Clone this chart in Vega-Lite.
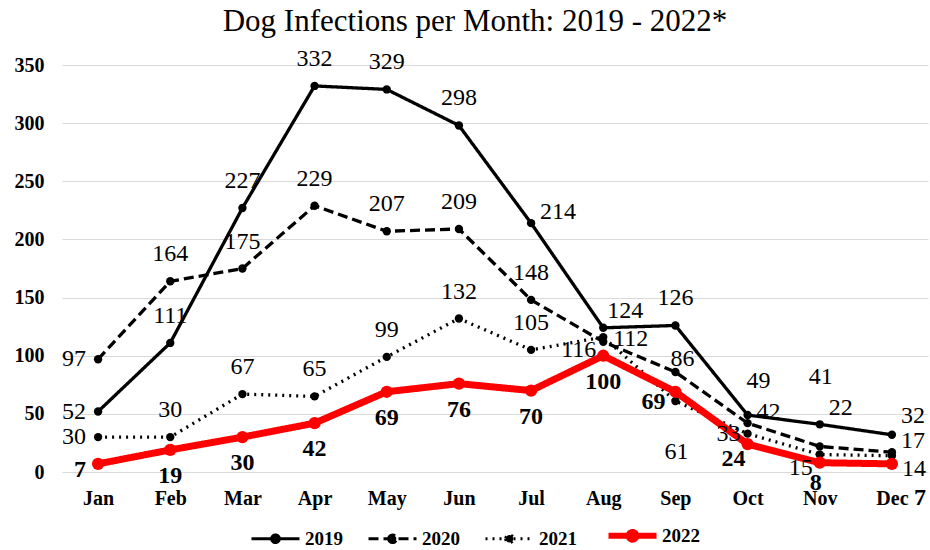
{
  "$schema": "https://vega.github.io/schema/vega-lite/v6.json",
  "autosize": "none",
  "width": 866,
  "height": 407,
  "padding": {"left": 62, "top": 65, "right": 2, "bottom": 78},
  "background": "white",
  "title": {
    "text": "Dog Infections  per Month: 2019 - 2022*",
    "font": "Liberation Serif",
    "fontSize": 31,
    "fontWeight": "normal",
    "color": "black",
    "anchor": "middle",
    "dx": -20,
    "offset": 9
  },
  "config": {
    "view": {"stroke": null},
    "text": {"font": "Liberation Serif", "fontSize": 24}
  },
  "data": {
    "values": [
      {"month": "Jan", "year": "2019", "value": 52},
      {"month": "Feb", "year": "2019", "value": 111},
      {"month": "Mar", "year": "2019", "value": 227},
      {"month": "Apr", "year": "2019", "value": 332},
      {"month": "May", "year": "2019", "value": 329},
      {"month": "Jun", "year": "2019", "value": 298},
      {"month": "Jul", "year": "2019", "value": 214},
      {"month": "Aug", "year": "2019", "value": 124},
      {"month": "Sep", "year": "2019", "value": 126},
      {"month": "Oct", "year": "2019", "value": 49},
      {"month": "Nov", "year": "2019", "value": 41},
      {"month": "Dec", "year": "2019", "value": 32},
      {"month": "Jan", "year": "2020", "value": 97},
      {"month": "Feb", "year": "2020", "value": 164},
      {"month": "Mar", "year": "2020", "value": 175},
      {"month": "Apr", "year": "2020", "value": 229},
      {"month": "May", "year": "2020", "value": 207},
      {"month": "Jun", "year": "2020", "value": 209},
      {"month": "Jul", "year": "2020", "value": 148},
      {"month": "Aug", "year": "2020", "value": 112},
      {"month": "Sep", "year": "2020", "value": 86},
      {"month": "Oct", "year": "2020", "value": 42},
      {"month": "Nov", "year": "2020", "value": 22},
      {"month": "Dec", "year": "2020", "value": 17},
      {"month": "Jan", "year": "2021", "value": 30},
      {"month": "Feb", "year": "2021", "value": 30},
      {"month": "Mar", "year": "2021", "value": 67},
      {"month": "Apr", "year": "2021", "value": 65},
      {"month": "May", "year": "2021", "value": 99},
      {"month": "Jun", "year": "2021", "value": 132},
      {"month": "Jul", "year": "2021", "value": 105},
      {"month": "Aug", "year": "2021", "value": 116},
      {"month": "Sep", "year": "2021", "value": 61},
      {"month": "Oct", "year": "2021", "value": 33},
      {"month": "Nov", "year": "2021", "value": 15},
      {"month": "Dec", "year": "2021", "value": 14},
      {"month": "Jan", "year": "2022", "value": 7},
      {"month": "Feb", "year": "2022", "value": 19},
      {"month": "Mar", "year": "2022", "value": 30},
      {"month": "Apr", "year": "2022", "value": 42},
      {"month": "May", "year": "2022", "value": 69},
      {"month": "Jun", "year": "2022", "value": 76},
      {"month": "Jul", "year": "2022", "value": 70},
      {"month": "Aug", "year": "2022", "value": 100},
      {"month": "Sep", "year": "2022", "value": 69},
      {"month": "Oct", "year": "2022", "value": 24},
      {"month": "Nov", "year": "2022", "value": 8},
      {"month": "Dec", "year": "2022", "value": 7}
    ]
  },
  "transform": [{"calculate": "datum.year + '|' + datum.month", "as": "key"}],
  "encoding": {
    "x": {
      "field": "month",
      "type": "ordinal",
      "sort": ["Jan","Feb","Mar","Apr","May","Jun","Jul","Aug","Sep","Oct","Nov","Dec"],
      "scale": {"type": "point", "padding": 0.5},
      "axis": {
        "title": null,
        "labelAngle": 0,
        "labelFont": "Liberation Serif",
        "labelFontWeight": "bold",
        "labelFontSize": 20,
        "labelColor": "black",
        "labelPadding": 16,
        "ticks": false,
        "domain": false,
        "grid": false
      }
    },
    "y": {
      "field": "value",
      "type": "quantitative",
      "scale": {"domain": [0, 350], "nice": false},
      "axis": {
        "title": null,
        "values": [0, 50, 100, 150, 200, 250, 300, 350],
        "labelFont": "Liberation Serif",
        "labelFontWeight": "bold",
        "labelFontSize": 20,
        "labelColor": "black",
        "labelPadding": 18,
        "ticks": false,
        "domain": false,
        "grid": true,
        "gridColor": "#d9d9d9",
        "gridWidth": 1
      }
    },
    "color": {
      "field": "year",
      "type": "nominal",
      "scale": {"domain": ["2019","2020","2021","2022"], "range": ["black","black","black","#ff0000"]},
      "legend": {
        "title": null,
        "orient": "none",
        "legendX": 204,
        "legendY": 461,
        "direction": "horizontal",
        "symbolType": "M-1,0L1,0M-0.16,0A0.16,0.16,0,1,0,0.16,0A0.16,0.16,0,1,0,-0.16,0Z",
        "symbolSize": 2304,
        "symbolStrokeWidth": 3,
        "labelFont": "Liberation Serif",
        "labelFontWeight": "bold",
        "labelFontSize": 19,
        "labelColor": "black",
        "labelOffset": 20,
        "columnPadding": 19,
        "encode": {
          "symbols": {
            "update": {
              "fill": {"signal": "datum.value === '2022' ? '#ff0000' : 'black'"},
              "strokeWidth": {"signal": "datum.value === '2022' ? 6 : 3"},
              "opacity": {"value": 1}
            }
          }
        }
      }
    }
  },
  "layer": [
    {
      "mark": {"type": "line", "strokeJoin": "miter"},
      "encoding": {
        "strokeDash": {
          "field": "year",
          "type": "nominal",
          "scale": {"domain": ["2019","2020","2021","2022"], "range": [[1,0],[10,5],[2,5],[1,0]]}
        },
        "strokeWidth": {
          "condition": {"test": "datum.year === '2022'", "value": 7},
          "value": 3.3
        }
      }
    },
    {
      "mark": {"type": "point", "filled": true, "opacity": 1},
      "encoding": {
        "size": {
          "condition": {"test": "datum.year === '2022'", "value": 150},
          "value": 70
        }
      }
    },
    {
      "transform": [{"filter": "datum.year != '2022' && indexof(['2019|Jan','2020|Jan','2021|Jan','2019|Jul','2019|Aug','2020|Aug','2020|Sep','2020|Oct','2019|Dec','2020|Dec','2019|Oct','2019|Nov','2020|Nov','2021|Aug','2021|Oct','2021|Nov','2021|Sep','2021|Dec'], datum.key) < 0"}],
      "mark": {"type": "text", "dy": -27},
      "encoding": {"text": {"field": "value", "type": "quantitative"}, "color": {"value": "black"}}
    },
    {
      "transform": [{"filter": "indexof(['2019|Jan','2020|Jan','2021|Jan'], datum.key) >= 0"}],
      "mark": {"type": "text", "align": "right", "dx": -12, "dy": 0},
      "encoding": {"text": {"field": "value", "type": "quantitative"}, "color": {"value": "black"}}
    },
    {
      "transform": [{"filter": "indexof(['2019|Jul','2020|Oct','2020|Dec'], datum.key) >= 0"}],
      "mark": {"type": "text", "align": "left", "dx": 9, "dy": -11},
      "encoding": {"text": {"field": "value", "type": "quantitative"}, "color": {"value": "black"}}
    },
    {
      "transform": [{"filter": "datum.key == '2019|Dec'"}],
      "mark": {"type": "text", "align": "left", "dx": 9, "dy": -19},
      "encoding": {"text": {"field": "value", "type": "quantitative"}, "color": {"value": "black"}}
    },
    {
      "transform": [{"filter": "datum.key == '2019|Aug'"}],
      "mark": {"type": "text", "dx": 22, "dy": -17},
      "encoding": {"text": {"field": "value", "type": "quantitative"}, "color": {"value": "black"}}
    },
    {
      "transform": [{"filter": "datum.key == '2020|Aug'"}],
      "mark": {"type": "text", "align": "left", "dx": 10, "dy": -3},
      "encoding": {"text": {"field": "value", "type": "quantitative"}, "color": {"value": "black"}}
    },
    {
      "transform": [{"filter": "datum.key == '2020|Sep'"}],
      "mark": {"type": "text", "dx": 7, "dy": -13},
      "encoding": {"text": {"field": "value", "type": "quantitative"}, "color": {"value": "black"}}
    },
    {
      "transform": [{"filter": "datum.key == '2019|Oct'"}],
      "mark": {"type": "text", "dx": 11, "dy": -34},
      "encoding": {"text": {"field": "value", "type": "quantitative"}, "color": {"value": "black"}}
    },
    {
      "transform": [{"filter": "datum.key == '2019|Nov'"}],
      "mark": {"type": "text", "dx": 1, "dy": -47},
      "encoding": {"text": {"field": "value", "type": "quantitative"}, "color": {"value": "black"}}
    },
    {
      "transform": [{"filter": "datum.key == '2020|Nov'"}],
      "mark": {"type": "text", "dx": 21, "dy": -38},
      "encoding": {"text": {"field": "value", "type": "quantitative"}, "color": {"value": "black"}}
    },
    {
      "transform": [{"filter": "indexof(['2021|Aug','2021|Nov'], datum.key) >= 0"}],
      "mark": {"type": "text", "align": "right", "dx": -7, "dy": 13},
      "encoding": {"text": {"field": "value", "type": "quantitative"}, "color": {"value": "black"}}
    },
    {
      "transform": [{"filter": "datum.key == '2021|Oct'"}],
      "mark": {"type": "text", "align": "right", "dx": -7, "dy": 0},
      "encoding": {"text": {"field": "value", "type": "quantitative"}, "color": {"value": "black"}}
    },
    {
      "transform": [{"filter": "datum.key == '2021|Sep'"}],
      "mark": {"type": "text", "dx": 1, "dy": 51},
      "encoding": {"text": {"field": "value", "type": "quantitative"}, "color": {"value": "black"}}
    },
    {
      "transform": [{"filter": "datum.key == '2021|Dec'"}],
      "mark": {"type": "text", "align": "left", "dx": 10, "dy": 13},
      "encoding": {"text": {"field": "value", "type": "quantitative"}, "color": {"value": "black"}}
    },
    {
      "transform": [{"filter": "datum.year == '2022' && indexof(['2022|Jan','2022|Sep','2022|Oct','2022|Nov','2022|Dec'], datum.key) < 0"}],
      "mark": {"type": "text", "fontWeight": "bold", "dy": 26},
      "encoding": {"text": {"field": "value", "type": "quantitative"}, "color": {"value": "black"}}
    },
    {
      "transform": [{"filter": "datum.key == '2022|Jan'"}],
      "mark": {"type": "text", "fontWeight": "bold", "align": "right", "dx": -12, "dy": 6},
      "encoding": {"text": {"field": "value", "type": "quantitative"}, "color": {"value": "black"}}
    },
    {
      "transform": [{"filter": "datum.key == '2022|Sep'"}],
      "mark": {"type": "text", "fontWeight": "bold", "align": "right", "dx": -10, "dy": 10},
      "encoding": {"text": {"field": "value", "type": "quantitative"}, "color": {"value": "black"}}
    },
    {
      "transform": [{"filter": "datum.key == '2022|Oct'"}],
      "mark": {"type": "text", "fontWeight": "bold", "dx": -14, "dy": 15},
      "encoding": {"text": {"field": "value", "type": "quantitative"}, "color": {"value": "black"}}
    },
    {
      "transform": [{"filter": "datum.key == '2022|Nov'"}],
      "mark": {"type": "text", "fontWeight": "bold", "dx": -4, "dy": 20},
      "encoding": {"text": {"field": "value", "type": "quantitative"}, "color": {"value": "black"}}
    },
    {
      "transform": [{"filter": "datum.key == '2022|Dec'"}],
      "mark": {"type": "text", "fontWeight": "bold", "align": "left", "dx": 22, "dy": 34},
      "encoding": {"text": {"field": "value", "type": "quantitative"}, "color": {"value": "black"}}
    }
  ]
}
